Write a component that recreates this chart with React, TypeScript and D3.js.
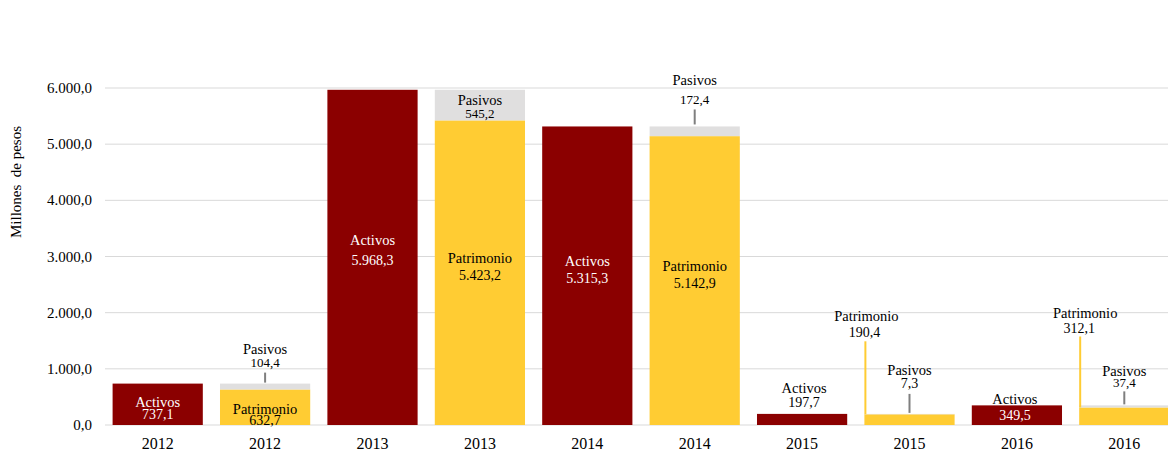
import React from 'react';
import * as d3 from 'd3';

const categories = ['2012', '2012', '2013', '2013', '2014', '2014', '2015', '2015', '2016', '2016'];
const years = ['2012', '2013', '2014', '2015', '2016'];
const activos = [737.1, 5968.3, 5315.3, 197.7, 349.5];
const patrimonio = [632.7, 5423.2, 5142.9, 190.4, 312.1];
const pasivos = [104.4, 545.2, 172.4, 7.3, 37.4];
const yTicks = [0, 1000, 2000, 3000, 4000, 5000, 6000];

const W = 1168;
const H = 456;
const FONT = '"Liberation Serif", "Times New Roman", serif';
const RED = '#8B0000';
const YELLOW = '#FFCC33';
const GRAY = '#E0DFDF';
const LEADER = '#7F7F7F';

const locale = d3.formatLocale({ decimal: ',', thousands: '.', grouping: [3], currency: ['$', ''] });
const fmt = locale.format(',.1f');

// label placement (style only): ref point, baseline offsets, colors
type Lab = { ref: 'mid' | 'top'; d1: number; d2: number; c1: string; c2: string; dx1?: number; dx2?: number; s2?: number; leader?: [number, number]; edge?: boolean };
const actLab: Lab[] = [
  { ref: 'mid', d1: 3, d2: 15, c1: '#fff', c2: '#fff' },
  { ref: 'mid', d1: -12, d2: 8, c1: '#fff', c2: '#fff' },
  { ref: 'mid', d1: -10, d2: 7, c1: '#fff', c2: '#fff' },
  { ref: 'top', d1: -21, d2: -7, c1: '#000', c2: '#000', dx1: 2, dx2: 2 },
  { ref: 'top', d1: -1.5, d2: 14.5, c1: '#000', c2: '#fff', dx1: -2, dx2: -2 },
];
const patLab: Lab[] = [
  { ref: 'mid', d1: 7, d2: 18, c1: '#000', c2: '#000' },
  { ref: 'mid', d1: -10, d2: 7, c1: '#000', c2: '#000' },
  { ref: 'mid', d1: -10, d2: 7, c1: '#000', c2: '#000' },
  { ref: 'top', d1: -93, d2: -77, c1: '#000', c2: '#000', edge: true, dx1: 2, dx2: 0, leader: [-73, 0] },
  { ref: 'top', d1: -89.5, d2: -74.5, c1: '#000', c2: '#000', edge: true, dx1: 6, dx2: 0, leader: [-71, 0] },
];
const pasLab: Lab[] = [
  { ref: 'top', d1: -30, d2: -17, c1: '#000', c2: '#000', s2: 13, leader: [-11, -1] },
  { ref: 'mid', d1: 0, d2: 13, c1: '#000', c2: '#000', s2: 13 },
  { ref: 'top', d1: -41, d2: -22, c1: '#000', c2: '#000', s2: 13, leader: [-17, -2] },
  { ref: 'top', d1: -39, d2: -26, c1: '#000', c2: '#000', s2: 14, leader: [-20, -1] },
  { ref: 'top', d1: -29, d2: -18, c1: '#000', c2: '#000', s2: 13, leader: [-14, -1] },
];

export default function App() {
  const x = d3.scaleBand<number>().domain(d3.range(categories.length)).range([104, 1178]).paddingInner(0.16).paddingOuter(0.08);
  const y = d3.scaleLinear().domain([0, 6000]).range([425, 88]);
  const bw = x.bandwidth();

  const label = (key: string, name: string, value: number, lab: Lab, x0: number, yTop: number, yBot: number, leaderColor: string) => {
    const refY = lab.ref === 'mid' ? (yTop + yBot) / 2 : yTop;
    const cx = lab.edge ? x0 : x0 + bw / 2;
    return (
      <g key={key}>
        {lab.leader && (
          <line x1={cx + (lab.edge ? 1 : 0)} x2={cx + (lab.edge ? 1 : 0)} y1={refY + lab.leader[0]} y2={refY + lab.leader[1]} stroke={leaderColor} strokeWidth={2} />
        )}
        <text x={cx + (lab.dx1 || 0)} y={refY + lab.d1} textAnchor="middle" fill={lab.c1} fontSize={14.5}>{name}</text>
        <text x={cx + (lab.dx2 || 0)} y={refY + lab.d2} textAnchor="middle" fill={lab.c2} fontSize={lab.s2 || 14}>{fmt(value)}</text>
      </g>
    );
  };

  return (
    <svg width={W} height={H} style={{ display: 'block', position: 'absolute', left: 0, top: 0 }} fontFamily={FONT}>
      {yTicks.map((t) => (
        <g key={t}>
          <line x1={105} x2={W} y1={y(t)} y2={y(t)} stroke="#D9D9D9" strokeWidth={1} />
          <text x={92} y={y(t) + 5} textAnchor="end" fontSize={15} fill="#000">{fmt(t)}</text>
        </g>
      ))}
      <text transform={`translate(21,182) rotate(-90)`} textAnchor="middle" fontSize={15} fill="#000" style={{ whiteSpace: 'pre' }}>{'Millones  de pesos'}</text>
      {years.map((yr, i) => {
        const xa = x(2 * i)!;
        const xp = x(2 * i + 1)!;
        const total = patrimonio[i] + pasivos[i];
        return (
          <g key={yr}>
            <rect x={xa} width={bw} y={y(activos[i])} height={y(0) - y(activos[i])} fill={RED} />
            <rect x={xp} width={bw} y={y(patrimonio[i])} height={y(0) - y(patrimonio[i])} fill={YELLOW} />
            <rect x={xp} width={bw} y={y(total)} height={y(patrimonio[i]) - y(total)} fill={GRAY} />
          </g>
        );
      })}
      {years.map((yr, i) => {
        const xa = x(2 * i)!;
        const xp = x(2 * i + 1)!;
        const total = patrimonio[i] + pasivos[i];
        return (
          <g key={'l' + yr}>
            {label('a', 'Activos', activos[i], actLab[i], xa, y(activos[i]), y(0), LEADER)}
            {label('p', 'Patrimonio', patrimonio[i], patLab[i], xp, y(patrimonio[i]), y(0), YELLOW)}
            {label('s', 'Pasivos', pasivos[i], pasLab[i], xp, y(total), y(patrimonio[i]), LEADER)}
          </g>
        );
      })}
      {categories.map((c, i) => (
        <text key={i} x={x(i)! + bw / 2} y={449} textAnchor="middle" fontSize={16} fill="#000">{c}</text>
      ))}
    </svg>
  );
}
